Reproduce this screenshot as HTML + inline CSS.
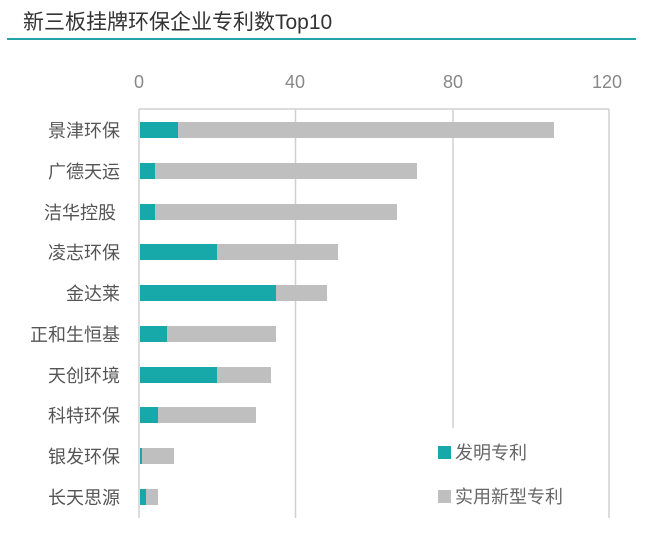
<!DOCTYPE html>
<html><head><meta charset="utf-8"><style>
body{margin:0;width:664px;height:533px;background:#fff;position:relative;overflow:hidden;font-family:"Liberation Sans","Noto Sans CJK SC",sans-serif}
.a{position:absolute;white-space:nowrap}
</style></head><body>
<div class="a" style="left:23px;top:6px;font-size:21px;color:#333">新三板挂牌环保企业专利数Top10</div>
<div class="a" style="left:7px;top:38px;width:629px;height:2px;background:#23a3a6"></div>
<svg class="a" style="left:0;top:0" width="664" height="533">
<g font-size="18" fill="#888" text-anchor="middle" font-family="Liberation Sans,sans-serif">
<text x="139" y="88">0</text><text x="295" y="88">40</text><text x="453" y="88">80</text><text x="607" y="88">120</text></g>
<g stroke="#d0d0d0" stroke-width="1.5" fill="none">
<line x1="139" y1="109" x2="139" y2="518"/><line x1="295.5" y1="109" x2="295.5" y2="518"/><line x1="453" y1="109" x2="453" y2="428"/><line x1="609" y1="109" x2="609" y2="518"/><line x1="139" y1="109" x2="609" y2="109"/></g>
<g id="bars"></g>
<rect x="438" y="446" width="13" height="13" fill="#17a9a9"/>
<rect x="438" y="490" width="13" height="13" fill="#bfbfbf"/>
<g font-size="18" fill="#666" font-family="Liberation Sans,Noto Sans CJK SC,sans-serif">
<text x="455" y="459">发明专利</text><text x="455" y="503">实用新型专利</text></g>
<g font-size="18" fill="#555" text-anchor="end" font-family="Liberation Sans,Noto Sans CJK SC,sans-serif">
<text x="120" y="137">景津环保</text><text x="120" y="178">广德天运</text><text x="116" y="219">洁华控股</text><text x="120" y="259">凌志环保</text><text x="120" y="300">金达莱</text><text x="120" y="341">正和生恒基</text><text x="120" y="382">天创环境</text><text x="120" y="422">科特环保</text><text x="120" y="463">银发环保</text><text x="120" y="504">长天思源</text></g>
<g>
<rect x="140" y="122" width="414" height="16" fill="#bfbfbf"/><rect x="140" y="122" width="38" height="16" fill="#17a9a9"/>
<rect x="140" y="163" width="277" height="16" fill="#bfbfbf"/><rect x="140" y="163" width="15" height="16" fill="#17a9a9"/>
<rect x="140" y="204" width="257" height="16" fill="#bfbfbf"/><rect x="140" y="204" width="15" height="16" fill="#17a9a9"/>
<rect x="140" y="244" width="198" height="16" fill="#bfbfbf"/><rect x="140" y="244" width="77" height="16" fill="#17a9a9"/>
<rect x="140" y="285" width="187" height="16" fill="#bfbfbf"/><rect x="140" y="285" width="136" height="16" fill="#17a9a9"/>
<rect x="140" y="326" width="136" height="16" fill="#bfbfbf"/><rect x="140" y="326" width="27" height="16" fill="#17a9a9"/>
<rect x="140" y="367" width="131" height="16" fill="#bfbfbf"/><rect x="140" y="367" width="77" height="16" fill="#17a9a9"/>
<rect x="140" y="407" width="116" height="16" fill="#bfbfbf"/><rect x="140" y="407" width="18" height="16" fill="#17a9a9"/>
<rect x="140" y="448" width="34" height="16" fill="#bfbfbf"/><rect x="140" y="448" width="2" height="16" fill="#17a9a9"/>
<rect x="140" y="489" width="18" height="16" fill="#bfbfbf"/><rect x="140" y="489" width="6" height="16" fill="#17a9a9"/>
</g>
</svg>
</body></html>
